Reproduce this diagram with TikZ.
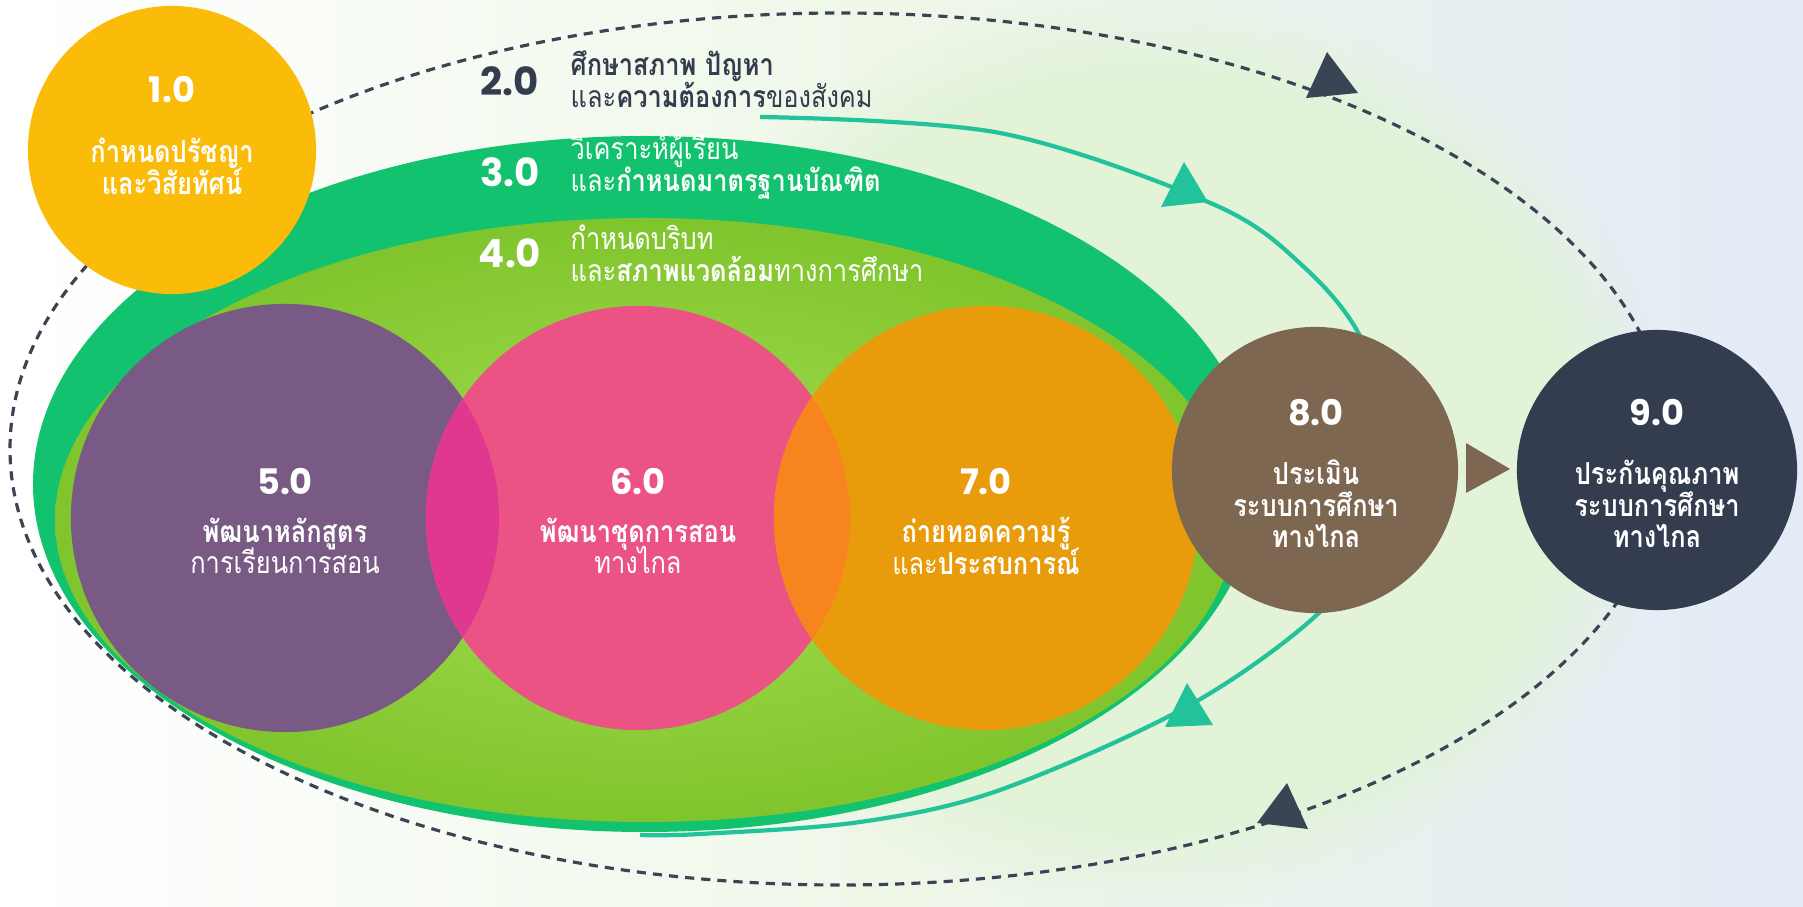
\documentclass[tikz,border=0pt]{standalone}
\usepackage{fontspec}
\setmainfont{Liberation Sans}
\newfontfamily\thai[Script=Thai, FakeStretch=0.84]{Loma}
\newfontfamily\numf{Poppins}
\usetikzlibrary{fadings}
\definecolor{bgblue}{HTML}{E3ECF6}
\definecolor{bggreen}{HTML}{EEF7E8}
\definecolor{glowc}{HTML}{E2F3D8}
\definecolor{dgreen}{HTML}{12C26E}
\definecolor{lgin}{HTML}{A6DD52}
\definecolor{lgout}{HTML}{80C52D}
\definecolor{purplec}{HTML}{785A85}
\definecolor{pinkc}{HTML}{EA5384}
\definecolor{orangec}{HTML}{E99C0B}
\definecolor{magc}{HTML}{E0388F}
\definecolor{orlensc}{HTML}{F7841F}
\definecolor{brownc}{HTML}{7E6750}
\definecolor{navyc}{HTML}{333D4F}
\definecolor{yellowc}{HTML}{FBBC09}
\definecolor{tealc}{HTML}{22C39B}
\definecolor{dashc}{HTML}{3B4455}
\begin{document}
\begin{tikzpicture}[x=0.01cm,y=-0.01cm,
  disc/.style={circle, inner sep=0pt, draw=none},
  numtxt/.style={font=\numf\bfseries\fontsize{10}{12}\selectfont, text=white, inner sep=0pt},
  bignum/.style={font=\numf\bfseries\fontsize{11}{13}\selectfont, inner sep=0pt},
  thaiw/.style={font={\thai\fontsize{8.6}{9}\selectfont\lineskiplimit=-100pt}, text=white, align=center, inner sep=0pt},
  thl/.style={font={\thai\fontsize{8.6}{9}\selectfont\lineskiplimit=-100pt}, align=left, anchor=west, inner sep=0pt},
  dashline/.style={draw=dashc, line width=0.9pt, dash pattern=on 2.6pt off 2pt},
  tealline/.style={draw=tealc, line width=1.2pt},
]
\useasboundingbox (0,0) rectangle (1803,907);
% background
\shade[left color=white, right color=bgblue, middle color=bggreen] (0,0) rectangle (1803,907);
\fill[glowc, path fading=circle with fuzzy edge 20 percent] (1150,450) ellipse[x radius=520, y radius=460];
% green ellipses
\fill[dgreen] (645,484) ellipse[x radius=612, y radius=348];
\shade[inner color=lgin, outer color=lgout] (645,520) ellipse[x radius=590, y radius=302];
% dashed cycle
\draw[dashline] (840,449) ellipse[x radius=830, y radius=436];
% teal cycle
\draw[tealline] plot[smooth, tension=0.55] coordinates {(760,117) (1000,133) (1215,205) (1305,268) (1362,340) (1388,440) (1370,530) (1322,610) (1190,705) (1000,790) (860,822) (700,834) (640,835)};
% three overlapping discs
\node[disc, fill=purplec, minimum size=4.28cm] (c5) at (285,518) {};
\node[disc, fill=pinkc, minimum size=4.24cm] (c6) at (638,518) {};
\node[disc, fill=orangec, minimum size=4.24cm] (c7) at (986,518) {};
\begin{scope}
  \clip (638,518) circle[radius=212];
  \fill[magc] (285,518) circle[radius=214];
\end{scope}
\begin{scope}
  \clip (986,518) circle[radius=212];
  \fill[orlensc] (638,518) circle[radius=212];
\end{scope}
% other discs
\node[disc, fill=brownc, minimum size=2.86cm] (c8) at (1315,470) {};
\node[disc, fill=navyc, minimum size=2.8cm] (c9) at (1657,470) {};
\node[disc, fill=yellowc, minimum size=2.88cm] (c1) at (172,150) {};
% arrowheads
\fill[dashc] (1327,52) -- (1306,98) -- (1358,93) -- cycle;
\fill[dashc] (1287,783) -- (1257,823) -- (1308,829) -- cycle;
\fill[tealc] (1184,162) -- (1161,207) -- (1208,202) -- cycle;
\fill[tealc] (1187,683) -- (1165,727) -- (1213,725) -- cycle;
\fill[brownc] (1466,443) -- (1466,493) -- (1510,469) -- cycle;
% texts
\node[numtxt] (n1) at (172,90) {1.0};
\node[thaiw] (t1) at (172,166) {\bfseries กำหนดปรัชญา\\\bfseries และวิสัยทัศน์};
\node[bignum, text=navyc] (n2) at (510,81) {2.0};
\node[thl, text=navyc] (t2) at (570,79) {\bfseries ศึกษาสภาพ ปัญหา\\และ{\bfseries ความต้องการ}ของสังคม};
\node[bignum, text=white] (n3) at (510,172) {3.0};
\node[thl, text=white] (t3) at (570,166) {วิเคราะห์ผู้เรียน\\และ{\bfseries กำหนดมาตรฐานบัณฑิต}};
\node[bignum, text=white] (n4) at (510,253) {4.0};
\node[thl, text=white] (t4) at (570,253) {กำหนดบริบท\\และ{\bfseries สภาพแวดล้อม}ทางการศึกษา};
\node[numtxt] (n5) at (285,482) {5.0};
\node[thaiw] (t5) at (285,546) {\bfseries พัฒนาหลักสูตร\\การเรียนการสอน};
\node[numtxt] (n6) at (638,482) {6.0};
\node[thaiw] (t6) at (638,546) {\bfseries พัฒนาชุดการสอน\\ทางไกล};
\node[numtxt] (n7) at (986,482) {7.0};
\node[thaiw] (t7) at (986,546) {\bfseries ถ่ายทอดความรู้\\และ{\bfseries ประสบการณ์}};
\node[numtxt] (n8) at (1316,413) {8.0};
\node[thaiw] (t8) at (1316,504) {\bfseries ประเมิน\\\bfseries ระบบการศึกษา\\\bfseries ทางไกล};
\node[numtxt] (n9) at (1657,413) {9.0};
\node[thaiw] (t9) at (1657,504) {\bfseries ประกันคุณภาพ\\\bfseries ระบบการศึกษา\\\bfseries ทางไกล};
\end{tikzpicture}
\end{document}
